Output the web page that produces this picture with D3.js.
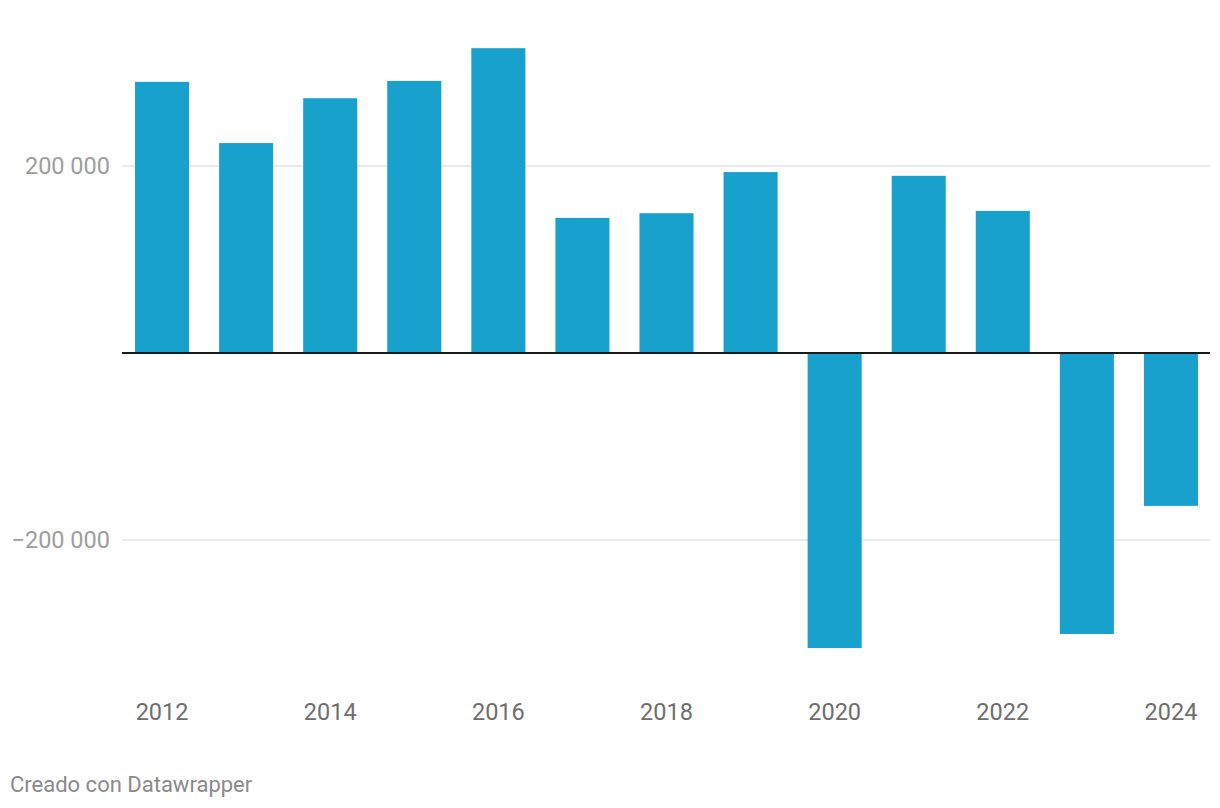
<!DOCTYPE html>
<html><head><meta charset="utf-8">
<script src="https://cdn.jsdelivr.net/npm/d3@7"></script>
<style>body{margin:0;background:#fff;font-family:Roboto,sans-serif}</style>
</head><body><svg id="c" width="1220" height="808"></svg>
<script>
const years = ["2012","2013","2014","2015","2016","2017","2018","2019","2020","2021","2022","2023","2024"];
const values = [290000,224500,272500,291000,326000,144500,149500,193500,-315500,189500,152000,-300500,-163500];
const yTicks = [-200000,200000];
const xTickLabels = ["2012","2014","2016","2018","2020","2022","2024"];

const svg = d3.select("#c");
const left = 122, right = 1211;
const x = d3.scaleBand().domain(years).range([left, right]).paddingInner(0.357).paddingOuter(0.155);
const y = d3.scaleLinear().domain([-200000, 200000]).range([540, 166]);
const fmt = v => (v < 0 ? "\u2212" : "") + d3.format(",")(Math.abs(v)).replace(/,/g, " ");

// grid
svg.append("g").selectAll("line").data(yTicks).join("line")
  .attr("x1", left).attr("x2", 1210)
  .attr("y1", d => y(d)).attr("y2", d => y(d))
  .attr("stroke", "#e3e3e3").attr("stroke-width", 1.5);
svg.append("g").selectAll("text").data(yTicks).join("text")
  .attr("x", 110).attr("y", d => y(d)).attr("dy", "0.35em")
  .attr("text-anchor", "end").attr("fill", "#9e9e9e")
  .style("font-size", "23.5px").text(fmt);

// bars
svg.append("g").selectAll("rect").data(years).join("rect")
  .attr("x", d => x(d)).attr("width", x.bandwidth())
  .attr("y", (d, i) => y(Math.max(0, values[i])))
  .attr("height", (d, i) => Math.abs(y(values[i]) - y(0)))
  .attr("fill", "#18a1cd");

// zero line
svg.append("line").attr("x1", left).attr("x2", 1210)
  .attr("y1", y(0)).attr("y2", y(0)).attr("stroke", "#1a1a1a").attr("stroke-width", 2);

// x labels
svg.append("g").selectAll("text").data(xTickLabels).join("text")
  .attr("x", d => x(d) + x.bandwidth() / 2).attr("y", 720)
  .attr("text-anchor", "middle").attr("fill", "#6e6e6e")
  .style("font-size", "23.5px").text(d => d);

svg.append("text").attr("x", 10).attr("y", 792).attr("fill", "#8a8a8a")
  .style("font-size", "22px").text("Creado con Datawrapper");
</script></body></html>
